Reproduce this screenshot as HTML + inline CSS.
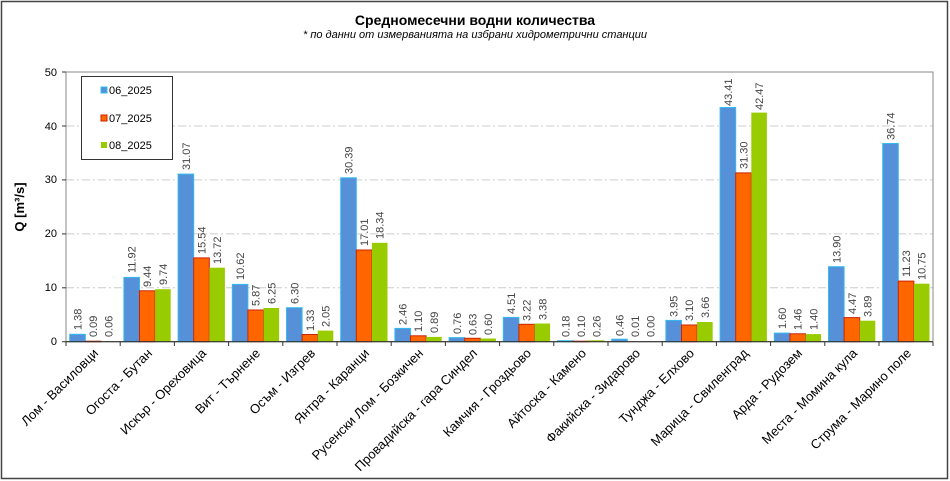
<!DOCTYPE html>
<html><head><meta charset="utf-8"><style>
body{margin:0;background:#fff}
svg{display:block;font-family:"Liberation Sans",sans-serif}
.v{font-size:11px;fill:#444}
.x{font-size:13px;fill:#000}
</style></head><body>
<svg width="950" height="481" viewBox="0 0 950 481">
<rect x="1.5" y="1.5" width="946" height="477" fill="#fff" stroke="#444" stroke-width="1.5"/>
<text x="475" y="25" text-anchor="middle" font-size="14" font-weight="bold">Средномесечни водни количества</text>
<text x="475" y="38" text-anchor="middle" font-size="11" font-style="italic">* по данни от измерванията на избрани хидрометрични станции</text>
<g stroke="#ccc" stroke-dasharray="8,3,2,3" stroke-width="1">
<line x1="66" x2="933" y1="287.8" y2="287.8"/><line x1="66" x2="933" y1="233.9" y2="233.9"/><line x1="66" x2="933" y1="179.9" y2="179.9"/><line x1="66" x2="933" y1="126" y2="126"/>
</g>
<rect x="66" y="72" width="867" height="269.7" fill="none" stroke="#888"/>
<g font-size="11" text-anchor="end" fill="#000">
<text x="57" y="345">0</text><text x="57" y="291">10</text><text x="57" y="237">20</text><text x="57" y="183">30</text><text x="57" y="130">40</text><text x="57" y="76">50</text>
</g>
<text transform="translate(24,207) rotate(-90)" text-anchor="middle" font-size="13" font-weight="bold">Q [m³/s]</text>
<g stroke="#333"><line x1="62" x2="66" y1="341.7" y2="341.7"/><line x1="62" x2="66" y1="287.8" y2="287.8"/><line x1="62" x2="66" y1="233.9" y2="233.9"/><line x1="62" x2="66" y1="179.9" y2="179.9"/><line x1="62" x2="66" y1="126" y2="126"/><line x1="62" x2="66" y1="72" y2="72"/></g>
<rect x="81.5" y="76.5" width="91" height="83" fill="#fff" stroke="#333"/>
<rect x="101" y="87" width="6" height="6" fill="#5590d8" stroke="#33bbee"/><text x="109" y="94" font-size="11">06_2025</text>
<rect x="101" y="115" width="6" height="6" fill="#ff6600" stroke="#cc2200"/><text x="109" y="122" font-size="11">07_2025</text>
<rect x="101" y="142" width="6" height="6" fill="#99cc00"/><text x="109" y="149" font-size="11">08_2025</text>

<g id="bars">
<g transform="translate(66,0)"><rect x="3.7" y="334.3" width="15.6" height="7.4" fill="#5590d8" stroke="#33bbee"/><rect x="19.3" y="341.2" width="15.6" height="0.5" fill="#ff6600" stroke="#cc2200"/><rect x="34.9" y="341.4" width="15.6" height="0.3" fill="#99cc00"/>
<text class="v" transform="translate(15.5,330) rotate(-90)">1.38</text><text class="v" transform="translate(31,337) rotate(-90)">0.09</text><text class="v" transform="translate(46.7,337) rotate(-90)">0.06</text></g>
<g transform="translate(120.2,0)"><rect x="3.7" y="277.4" width="15.6" height="64.3" fill="#5590d8" stroke="#33bbee"/><rect x="19.3" y="290.8" width="15.6" height="50.9" fill="#ff6600" stroke="#cc2200"/><rect x="34.9" y="289.2" width="15.6" height="52.5" fill="#99cc00"/>
<text class="v" transform="translate(15.5,273) rotate(-90)">11.92</text><text class="v" transform="translate(31,287) rotate(-90)">9.44</text><text class="v" transform="translate(46.7,285) rotate(-90)">9.74</text></g>
<g transform="translate(174.4,0)"><rect x="3.7" y="174.1" width="15.6" height="167.6" fill="#5590d8" stroke="#33bbee"/><rect x="19.3" y="257.9" width="15.6" height="83.8" fill="#ff6600" stroke="#cc2200"/><rect x="34.9" y="267.7" width="15.6" height="74" fill="#99cc00"/>
<text class="v" transform="translate(15.5,170) rotate(-90)">31.07</text><text class="v" transform="translate(31,254) rotate(-90)">15.54</text><text class="v" transform="translate(46.7,264) rotate(-90)">13.72</text></g>
<g transform="translate(228.6,0)"><rect x="3.7" y="284.4" width="15.6" height="57.3" fill="#5590d8" stroke="#33bbee"/><rect x="19.3" y="310" width="15.6" height="31.7" fill="#ff6600" stroke="#cc2200"/><rect x="34.9" y="308" width="15.6" height="33.7" fill="#99cc00"/>
<text class="v" transform="translate(15.5,280) rotate(-90)">10.62</text><text class="v" transform="translate(31,306) rotate(-90)">5.87</text><text class="v" transform="translate(46.7,304) rotate(-90)">6.25</text></g>
<g transform="translate(282.8,0)"><rect x="3.7" y="307.7" width="15.6" height="34" fill="#5590d8" stroke="#33bbee"/><rect x="19.3" y="334.5" width="15.6" height="7.2" fill="#ff6600" stroke="#cc2200"/><rect x="34.9" y="330.6" width="15.6" height="11.1" fill="#99cc00"/>
<text class="v" transform="translate(15.5,304) rotate(-90)">6.30</text><text class="v" transform="translate(31,331) rotate(-90)">1.33</text><text class="v" transform="translate(46.7,327) rotate(-90)">2.05</text></g>
<g transform="translate(337,0)"><rect x="3.7" y="177.8" width="15.6" height="163.9" fill="#5590d8" stroke="#33bbee"/><rect x="19.3" y="250" width="15.6" height="91.7" fill="#ff6600" stroke="#cc2200"/><rect x="34.9" y="242.8" width="15.6" height="98.9" fill="#99cc00"/>
<text class="v" transform="translate(15.5,174) rotate(-90)">30.39</text><text class="v" transform="translate(31,246) rotate(-90)">17.01</text><text class="v" transform="translate(46.7,239) rotate(-90)">18.34</text></g>
<g transform="translate(391.2,0)"><rect x="3.7" y="328.4" width="15.6" height="13.3" fill="#5590d8" stroke="#33bbee"/><rect x="19.3" y="335.8" width="15.6" height="5.9" fill="#ff6600" stroke="#cc2200"/><rect x="34.9" y="336.9" width="15.6" height="4.8" fill="#99cc00"/>
<text class="v" transform="translate(15.5,325) rotate(-90)">2.46</text><text class="v" transform="translate(31,332) rotate(-90)">1.10</text><text class="v" transform="translate(46.7,333) rotate(-90)">0.89</text></g>
<g transform="translate(445.4,0)"><rect x="3.7" y="337.6" width="15.6" height="4.1" fill="#5590d8" stroke="#33bbee"/><rect x="19.3" y="338.3" width="15.6" height="3.4" fill="#ff6600" stroke="#cc2200"/><rect x="34.9" y="338.5" width="15.6" height="3.2" fill="#99cc00"/>
<text class="v" transform="translate(15.5,334) rotate(-90)">0.76</text><text class="v" transform="translate(31,335) rotate(-90)">0.63</text><text class="v" transform="translate(46.7,335) rotate(-90)">0.60</text></g>
<g transform="translate(499.6,0)"><rect x="3.7" y="317.4" width="15.6" height="24.3" fill="#5590d8" stroke="#33bbee"/><rect x="19.3" y="324.3" width="15.6" height="17.4" fill="#ff6600" stroke="#cc2200"/><rect x="34.9" y="323.5" width="15.6" height="18.2" fill="#99cc00"/>
<text class="v" transform="translate(15.5,314) rotate(-90)">4.51</text><text class="v" transform="translate(31,321) rotate(-90)">3.22</text><text class="v" transform="translate(46.7,320) rotate(-90)">3.38</text></g>
<g transform="translate(553.8,0)"><rect x="3.7" y="340.7" width="15.6" height="1" fill="#5590d8" stroke="#33bbee"/><rect x="19.3" y="341.2" width="15.6" height="0.5" fill="#ff6600" stroke="#cc2200"/><rect x="34.9" y="340.3" width="15.6" height="1.4" fill="#99cc00"/>
<text class="v" transform="translate(15.5,337) rotate(-90)">0.18</text><text class="v" transform="translate(31,337) rotate(-90)">0.10</text><text class="v" transform="translate(46.7,337) rotate(-90)">0.26</text></g>
<g transform="translate(608,0)"><rect x="3.7" y="339.2" width="15.6" height="2.5" fill="#5590d8" stroke="#33bbee"/>
<text class="v" transform="translate(15.5,336) rotate(-90)">0.46</text><text class="v" transform="translate(31,337) rotate(-90)">0.01</text><text class="v" transform="translate(46.7,337) rotate(-90)">0.00</text></g>
<g transform="translate(662.2,0)"><rect x="3.7" y="320.4" width="15.6" height="21.3" fill="#5590d8" stroke="#33bbee"/><rect x="19.3" y="325" width="15.6" height="16.7" fill="#ff6600" stroke="#cc2200"/><rect x="34.9" y="322" width="15.6" height="19.7" fill="#99cc00"/>
<text class="v" transform="translate(15.5,317) rotate(-90)">3.95</text><text class="v" transform="translate(31,321) rotate(-90)">3.10</text><text class="v" transform="translate(46.7,318) rotate(-90)">3.66</text></g>
<g transform="translate(716.4,0)"><rect x="3.7" y="107.5" width="15.6" height="234.2" fill="#5590d8" stroke="#33bbee"/><rect x="19.3" y="172.9" width="15.6" height="168.8" fill="#ff6600" stroke="#cc2200"/><rect x="34.9" y="112.6" width="15.6" height="229.1" fill="#99cc00"/>
<text class="v" transform="translate(15.5,106) rotate(-90)">43.41</text><text class="v" transform="translate(31,169) rotate(-90)">31.30</text><text class="v" transform="translate(46.7,110) rotate(-90)">42.47</text></g>
<g transform="translate(770.6,0)"><rect x="3.7" y="333.1" width="15.6" height="8.6" fill="#5590d8" stroke="#33bbee"/><rect x="19.3" y="333.8" width="15.6" height="7.9" fill="#ff6600" stroke="#cc2200"/><rect x="34.9" y="334.1" width="15.6" height="7.6" fill="#99cc00"/>
<text class="v" transform="translate(15.5,329) rotate(-90)">1.60</text><text class="v" transform="translate(31,330) rotate(-90)">1.46</text><text class="v" transform="translate(46.7,330) rotate(-90)">1.40</text></g>
<g transform="translate(824.8,0)"><rect x="3.7" y="266.7" width="15.6" height="75" fill="#5590d8" stroke="#33bbee"/><rect x="19.3" y="317.6" width="15.6" height="24.1" fill="#ff6600" stroke="#cc2200"/><rect x="34.9" y="320.7" width="15.6" height="21" fill="#99cc00"/>
<text class="v" transform="translate(15.5,263) rotate(-90)">13.90</text><text class="v" transform="translate(31,314) rotate(-90)">4.47</text><text class="v" transform="translate(46.7,317) rotate(-90)">3.89</text></g>
<g transform="translate(879,0)"><rect x="3.7" y="143.5" width="15.6" height="198.2" fill="#5590d8" stroke="#33bbee"/><rect x="19.3" y="281.1" width="15.6" height="60.6" fill="#ff6600" stroke="#cc2200"/><rect x="34.9" y="283.7" width="15.6" height="58" fill="#99cc00"/>
<text class="v" transform="translate(15.5,140) rotate(-90)">36.74</text><text class="v" transform="translate(31,277) rotate(-90)">11.23</text><text class="v" transform="translate(46.7,280) rotate(-90)">10.75</text></g>
</g>
<line x1="66" x2="933" y1="341.7" y2="341.7" stroke="#333" stroke-width="1.2"/>
<g stroke="#333">
<line x1="66" x2="66" y1="342" y2="346"/><line x1="120.2" x2="120.2" y1="342" y2="346"/><line x1="174.4" x2="174.4" y1="342" y2="346"/><line x1="228.6" x2="228.6" y1="342" y2="346"/><line x1="282.8" x2="282.8" y1="342" y2="346"/><line x1="337" x2="337" y1="342" y2="346"/><line x1="391.2" x2="391.2" y1="342" y2="346"/><line x1="445.4" x2="445.4" y1="342" y2="346"/><line x1="499.6" x2="499.6" y1="342" y2="346"/><line x1="553.8" x2="553.8" y1="342" y2="346"/><line x1="608" x2="608" y1="342" y2="346"/><line x1="662.2" x2="662.2" y1="342" y2="346"/><line x1="716.4" x2="716.4" y1="342" y2="346"/><line x1="770.6" x2="770.6" y1="342" y2="346"/><line x1="824.8" x2="824.8" y1="342" y2="346"/><line x1="879" x2="879" y1="342" y2="346"/><line x1="933" x2="933" y1="342" y2="346"/>
</g>
<g class="x" text-anchor="end">
<text class="x" transform="translate(99,354) rotate(-45)">Лом - Василовци</text>
<text class="x" transform="translate(153,354) rotate(-45)">Огоста - Бутан</text>
<text class="x" transform="translate(207,354) rotate(-45)">Искър - Ореховица</text>
<text class="x" transform="translate(261,354) rotate(-45)">Вит - Търнене</text>
<text class="x" transform="translate(316,354) rotate(-45)">Осъм - Изгрев</text>
<text class="x" transform="translate(370,354) rotate(-45)">Янтра - Каранци</text>
<text class="x" transform="translate(424,354) rotate(-45)">Русенски Лом - Бозкичен</text>
<text class="x" transform="translate(478,354) rotate(-45)">Провадийска - гара Синдел</text>
<text class="x" transform="translate(532,354) rotate(-45)">Камчия - Гроздьово</text>
<text class="x" transform="translate(587,354) rotate(-45)">Айтоска - Камено</text>
<text class="x" transform="translate(641,354) rotate(-45)">Факийска - Зидарово</text>
<text class="x" transform="translate(695,354) rotate(-45)">Тунджа - Елхово</text>
<text class="x" transform="translate(749,354) rotate(-45)">Марица - Свиленград</text>
<text class="x" transform="translate(803,354) rotate(-45)">Арда - Рудозем</text>
<text class="x" transform="translate(858,354) rotate(-45)">Места - Момина кула</text>
<text class="x" transform="translate(912,354) rotate(-45)">Струма - Марино поле</text>
</g>
</svg>
</body></html>
